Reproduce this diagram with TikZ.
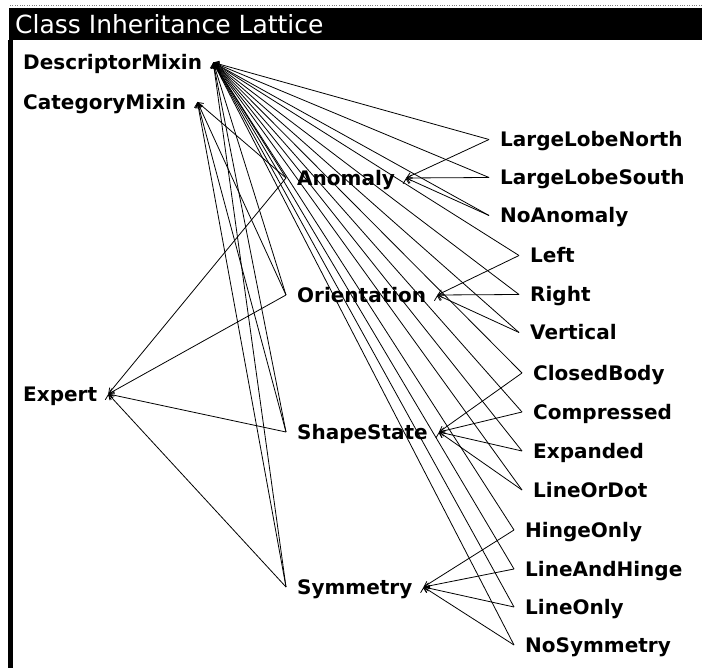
\documentclass[tikz,border=0pt]{standalone}
\usepackage{fontspec}
\setmainfont{DejaVu Sans}
\usetikzlibrary{arrows.meta}

\begin{document}
\begin{tikzpicture}[x=1pt, y=-1pt,
    cls/.style={font=\bfseries\fontsize{20}{24}\selectfont, anchor=west, inner xsep=11pt, inner ysep=0pt, text height=15pt, text depth=0pt},
    isa/.style={{Straight Barb[length=5pt,width=6pt]}-, line width=0.8pt}]
    \useasboundingbox (0,0) rectangle (702,668);

    % Window frame and title bar
    \draw[gray, dotted] (10,5) -- (702,5);
    \fill[black] (9,8) rectangle (702,40);
    \draw[line width=5pt] (10.5,40) -- (10.5,668);
    \node[anchor=west, white, font=\fontsize{25}{30}\selectfont, inner sep=0pt] (title) at (15,24) {Class Inheritance Lattice};

    % Superclasses on the left
    \node[cls] (desc) at (12,62.5) {DescriptorMixin};
    \node[cls] (cat) at (12,102) {CategoryMixin};
    \node[cls] (expert) at (12,394) {Expert};

    % Middle classes
    \node[cls] (anom) at (286,178) {Anomaly};
    \node[cls] (orient) at (286,295) {Orientation};
    \node[cls] (shape) at (286,432) {ShapeState};
    \node[cls] (symm) at (286,587) {Symmetry};

    % Leaf classes
    \node[cls] (lln) at (489,139.5) {LargeLobeNorth};
    \node[cls] (lls) at (489,177.5) {LargeLobeSouth};
    \node[cls] (noan) at (489,215.5) {NoAnomaly};
    \node[cls] (left) at (519,255.5) {Left};
    \node[cls] (right) at (519,294.5) {Right};
    \node[cls] (vert) at (519,332.5) {Vertical};
    \node[cls] (closed) at (522,373) {ClosedBody};
    \node[cls] (compr) at (522,412) {Compressed};
    \node[cls] (expand) at (522,451) {Expanded};
    \node[cls] (lod) at (522,490) {LineOrDot};
    \node[cls] (hinge) at (514,530) {HingeOnly};
    \node[cls] (lah) at (514,569) {LineAndHinge};
    \node[cls] (lonly) at (514,607) {LineOnly};
    \node[cls] (nosym) at (514,645) {NoSymmetry};

    % Links from DescriptorMixin
    \draw[isa] (desc.east) edge (anom.west) edge (orient.west) edge (shape.west) edge (symm.west)
        edge (lln.west) edge (lls.west) edge (noan.west)
        edge (left.west) edge (right.west) edge (vert.west)
        edge (closed.west) edge (compr.west) edge (expand.west) edge (lod.west)
        edge (hinge.west) edge (lah.west) edge (lonly.west) edge (nosym.west);

    % Links from CategoryMixin and Expert
    \draw[isa] (cat.east) edge (anom.west) edge (orient.west) edge (shape.west) edge (symm.west);
    \draw[isa] (expert.east) edge (anom.west) edge (orient.west) edge (shape.west) edge (symm.west);

    % Links from the middle classes
    \draw[isa] (anom.east) edge (lln.west) edge (lls.west) edge (noan.west);
    \draw[isa] (orient.east) edge (left.west) edge (right.west) edge (vert.west);
    \draw[isa] (shape.east) edge (closed.west) edge (compr.west) edge (expand.west) edge (lod.west);
    \draw[isa] (symm.east) edge (hinge.west) edge (lah.west) edge (lonly.west) edge (nosym.west);
\end{tikzpicture}
\end{document}
